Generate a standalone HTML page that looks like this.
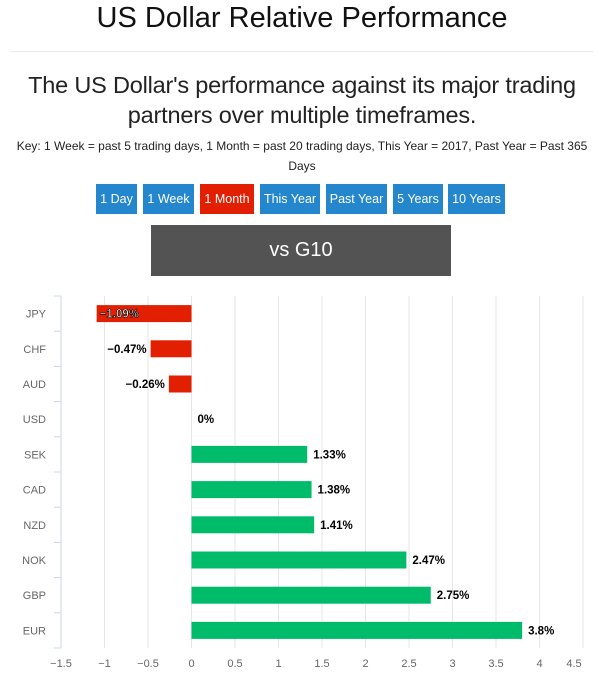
<!DOCTYPE html>
<html><head><meta charset="utf-8">
<style>
body{margin:0;width:604px;height:685px;background:#fff;font-family:"Liberation Sans",sans-serif;overflow:hidden;position:relative}
h1{position:absolute;top:0;left:0;width:604px;margin:0;text-align:center;font-size:29px;font-weight:normal;color:#111;line-height:36px}
.hr{position:absolute;top:51px;left:11px;width:582px;height:1px;background:#e8e8e8}
h2{position:absolute;top:70px;left:0;width:604px;margin:0;text-align:center;font-size:23.5px;font-weight:normal;color:#222;line-height:30px;letter-spacing:-0.2px}
.key{position:absolute;top:136px;left:10px;width:584px;text-align:center;font-size:12px;color:#222;line-height:20px}
.btns{position:absolute;top:184px;left:96px;height:30px}
.b{position:absolute;top:0;height:30px;line-height:30px;background:#2487ce;color:#fff;font-size:12.5px;text-align:center}
.title{position:absolute;top:225px;left:151px;width:300px;height:51px;background:#535353;color:#fff;font-size:20px;text-align:center;line-height:51px}
</style></head><body>
<h1>US Dollar Relative Performance</h1>
<div class="hr"></div>
<h2>The US Dollar's performance against its major trading<br>partners over multiple timeframes.</h2>
<div class="key">Key: 1 Week = past 5 trading days, 1 Month = past 20 trading days, This Year = 2017, Past Year = Past 365 Days</div>
<div class="btns">
<div class="b" style="left:0;width:41px">1 Day</div>
<div class="b" style="left:47px;width:51px">1 Week</div>
<div class="b" style="left:104px;width:54px;background:#e21f00">1 Month</div>
<div class="b" style="left:164px;width:60px">This Year</div>
<div class="b" style="left:230px;width:61px">Past Year</div>
<div class="b" style="left:297px;width:50px">5 Years</div>
<div class="b" style="left:352px;width:57px">10 Years</div>
</div>
<div class="title">vs G10</div>
<svg id="c" width="604" height="685" style="position:absolute;top:0;left:0"></svg>
<script>
const categories=["JPY","CHF","AUD","USD","SEK","CAD","NZD","NOK","GBP","EUR"];
const values=[-1.09,-0.47,-0.26,0,1.33,1.38,1.41,2.47,2.75,3.8];
const labels=["−1.09%","−0.47%","−0.26%","0%","1.33%","1.38%","1.41%","2.47%","2.75%","3.8%"];
const ticks=[-1.5,-1,-0.5,0,0.5,1,1.5,2,2.5,3,3.5,4,4.5];
const tickLabels=["−1.5","−1","−0.5","0","0.5","1","1.5","2","2.5","3","3.5","4","4.5"];
const svg=document.getElementById('c'),NS="http://www.w3.org/2000/svg";
const xs=v=>61+(v+1.5)*(522/6);
const plotTop=296,plotBot=648,band=(plotBot-plotTop)/categories.length;
const ys=i=>plotTop+band*i+band/2;
function mk(t,a){const e=document.createElementNS(NS,t);for(const k in a)e.setAttribute(k,a[k]);svg.appendChild(e);return e;}
ticks.forEach((t,i)=>{
 const g=mk('line',{x1:xs(t),x2:xs(t),y1:plotTop,y2:plotBot,stroke:'#e6e6e6','stroke-width':1});
 
 
 const last=i===ticks.length-1;
 const l=mk('text',{x:last?xs(t)-9:xs(t),y:667,'text-anchor':'middle','font-size':11,fill:'#666'});
 l.textContent=tickLabels[i];
 
 
});
const ax=mk('line',{x1:61,x2:61,y1:plotTop,y2:plotBot,stroke:'#ccd6eb'});


for(let i=0;i<=categories.length;i++){
 const tk=mk('line',{x1:54,x2:61,y1:plotTop+band*i,y2:plotTop+band*i,stroke:'#ccd6eb'});
 
 
}
categories.forEach((c,i)=>{
 const v=values[i],cy=ys(i);
 const t=mk('text',{x:46,y:cy+4,'text-anchor':'end','font-size':11,fill:'#666'});
 t.textContent=c;
 
 
 const x0=Math.min(xs(0),xs(v)),w=Math.abs(xs(v)-xs(0));
 const r=mk('rect',{x:x0,y:cy-8.5,width:w,height:17,fill:v<0?'#e21f00':'#00bb6a'});
 
 
 const inside=v<0&&w>80;
 let lx,anchor;
 if(v<0){lx=inside?xs(v)+3:xs(v)-4;anchor=inside?'start':'end';}else{lx=xs(v)+6;anchor='start';}
 const lb=mk('text',{x:lx,y:cy+4,'text-anchor':anchor,'font-size':11.5,'font-weight':'bold',fill:inside?'#fff':'#000'});
 if(inside){lb.setAttribute('stroke','#000');lb.setAttribute('stroke-width','0.6');}
 lb.textContent=labels[i];
 
 
});
</script>
</body></html>
